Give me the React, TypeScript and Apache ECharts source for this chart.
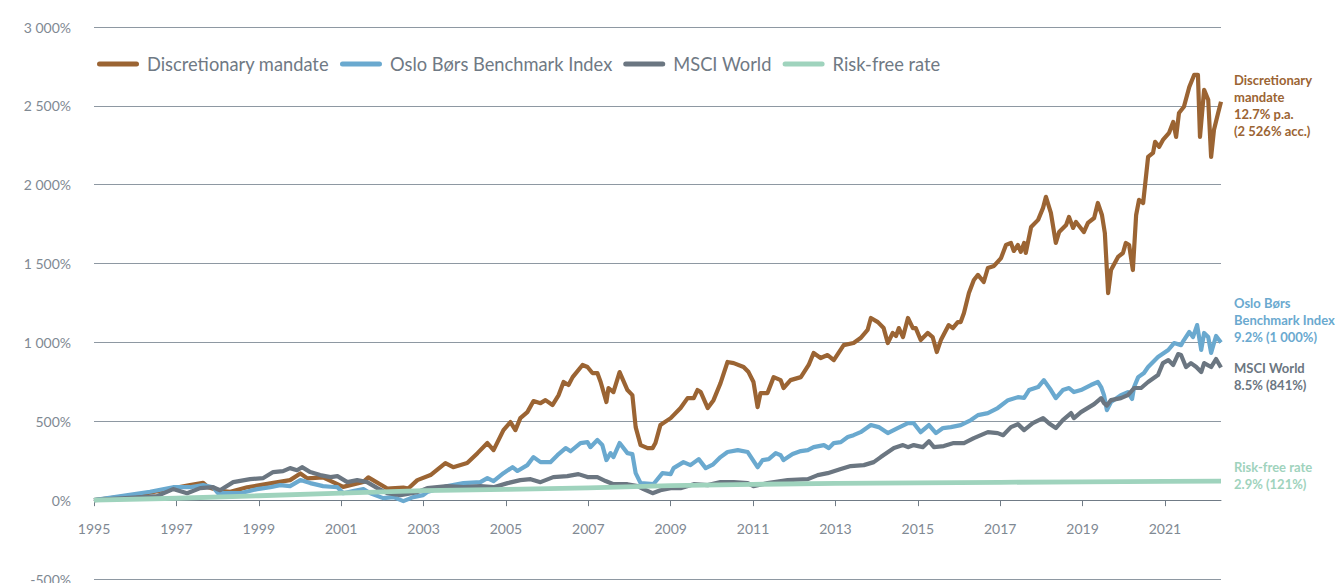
import React, { useEffect, useRef } from "react";
import * as echarts from "echarts";

const START_YEAR = 1995;
const yearTicks = [1995, 1997, 1999, 2001, 2003, 2005, 2007, 2009, 2011, 2013, 2015, 2017, 2019, 2021];
const END_YEAR = 2022.36;

const seriesNames = ["Discretionary mandate", "Oslo Børs Benchmark Index", "MSCI World", "Risk-free rate"];
const seriesColors = ["#9b6433", "#6aa9cf", "#6b7681", "#9fd3bd"];

// [decimal year, accumulated return %]
const discretionary: [number, number][] = [
  [1995.0, 0], [1996.12, 36], [1997.33, 95], [1997.65, 110], [1997.77, 82], [1998.06, 59], [1998.31, 53], [1998.72, 82],
  [1999.28, 106], [1999.76, 127], [2000.01, 169], [2000.18, 138], [2000.56, 144], [2001.05, 84], [2001.54, 116], [2001.66, 144],
  [2002.12, 74], [2002.51, 80], [2002.63, 74], [2002.85, 127], [2003.17, 159], [2003.53, 235], [2003.72, 209], [2004.06, 235],
  [2004.31, 298], [2004.55, 362], [2004.7, 317], [2004.94, 444], [2005.11, 495], [2005.23, 444], [2005.35, 520], [2005.52, 558],
  [2005.67, 628], [2005.84, 615], [2005.96, 634], [2006.13, 603], [2006.28, 666], [2006.4, 749], [2006.52, 730], [2006.62, 780],
  [2006.86, 857], [2006.98, 844], [2007.1, 806], [2007.22, 806], [2007.3, 749], [2007.44, 622], [2007.49, 711], [2007.61, 685],
  [2007.76, 812], [2007.95, 698], [2008.07, 666], [2008.15, 463], [2008.27, 349], [2008.44, 330], [2008.56, 330], [2008.63, 362],
  [2008.75, 476], [2009.0, 520], [2009.24, 584], [2009.41, 647], [2009.56, 647], [2009.65, 698], [2009.73, 685], [2009.9, 584],
  [2010.04, 634], [2010.21, 742], [2010.38, 876], [2010.53, 869], [2010.77, 844], [2010.89, 812], [2011.01, 749], [2011.11, 590],
  [2011.18, 679], [2011.35, 679], [2011.5, 780], [2011.67, 761], [2011.74, 711], [2011.91, 761], [2012.16, 780], [2012.35, 857],
  [2012.47, 933], [2012.64, 901], [2012.81, 920], [2012.96, 888], [2013.2, 983], [2013.44, 996], [2013.61, 1028], [2013.78, 1079],
  [2013.86, 1155], [2014.03, 1129], [2014.17, 1091], [2014.27, 996], [2014.39, 1060], [2014.47, 1041], [2014.54, 1091], [2014.64, 1034],
  [2014.76, 1155], [2014.88, 1091], [2014.95, 1091], [2015.07, 1015], [2015.24, 1060], [2015.36, 1034], [2015.46, 939], [2015.56, 1015],
  [2015.75, 1110], [2015.85, 1091], [2015.97, 1129], [2016.04, 1129], [2016.12, 1187], [2016.24, 1313], [2016.36, 1396], [2016.46, 1428],
  [2016.6, 1383], [2016.7, 1472], [2016.85, 1485], [2017.02, 1535], [2017.14, 1618], [2017.26, 1631], [2017.33, 1580], [2017.43, 1618],
  [2017.5, 1574], [2017.58, 1631], [2017.62, 1567], [2017.75, 1732], [2017.92, 1777], [2018.04, 1853], [2018.11, 1923], [2018.23, 1821],
  [2018.35, 1631], [2018.43, 1700], [2018.6, 1745], [2018.67, 1796], [2018.77, 1726], [2018.84, 1764], [2019.03, 1700], [2019.13, 1758],
  [2019.28, 1789], [2019.37, 1884], [2019.47, 1808], [2019.54, 1694], [2019.62, 1313], [2019.69, 1459], [2019.86, 1542], [2019.98, 1567],
  [2020.05, 1631], [2020.13, 1618], [2020.22, 1459], [2020.3, 1808], [2020.37, 1904], [2020.47, 1884], [2020.59, 2176], [2020.71, 2202],
  [2020.76, 2272], [2020.86, 2240], [2020.95, 2284], [2021.1, 2329], [2021.2, 2398], [2021.27, 2303], [2021.34, 2455], [2021.46, 2494],
  [2021.59, 2620], [2021.71, 2697], [2021.8, 2697], [2021.85, 2303], [2021.95, 2601], [2022.05, 2538], [2022.12, 2176], [2022.19, 2348],
  [2022.29, 2455], [2022.36, 2526],
];

const osloBors: [number, number][] = [
  [1995.0, 0], [1996.36, 53], [1996.92, 82], [1997.33, 82], [1997.65, 95], [1997.89, 82], [1998.01, 44], [1998.55, 44],
  [1998.96, 70], [1999.28, 82], [1999.52, 95], [1999.76, 89], [2000.01, 127], [2000.25, 108], [2000.56, 89], [2000.74, 85],
  [2000.91, 82], [2001.05, 44], [2001.29, 57], [2001.54, 70], [2001.71, 44], [2002.02, 13], [2002.27, 19], [2002.51, -6],
  [2002.75, 19], [2002.99, 32], [2003.09, 51], [2003.58, 89], [2003.97, 108], [2004.38, 114], [2004.55, 140], [2004.7, 120],
  [2004.94, 171], [2005.16, 209], [2005.28, 185], [2005.52, 222], [2005.67, 273], [2005.84, 241], [2006.08, 241], [2006.25, 285],
  [2006.45, 330], [2006.57, 310], [2006.81, 362], [2006.98, 368], [2007.05, 336], [2007.22, 381], [2007.34, 350], [2007.44, 254],
  [2007.54, 298], [2007.61, 273], [2007.76, 362], [2007.95, 298], [2008.07, 292], [2008.15, 171], [2008.27, 108], [2008.58, 101],
  [2008.8, 171], [2009.0, 165], [2009.07, 203], [2009.31, 241], [2009.48, 222], [2009.68, 260], [2009.85, 203], [2010.02, 225],
  [2010.21, 273], [2010.38, 305], [2010.63, 317], [2010.87, 305], [2011.11, 209], [2011.23, 254], [2011.38, 260], [2011.55, 298],
  [2011.67, 285], [2011.74, 254], [2011.96, 292], [2012.16, 311], [2012.33, 317], [2012.47, 336], [2012.72, 349], [2012.84, 330],
  [2012.96, 362], [2013.13, 368], [2013.3, 400], [2013.44, 412], [2013.61, 431], [2013.86, 476], [2014.05, 463], [2014.27, 425],
  [2014.51, 457], [2014.76, 488], [2014.9, 488], [2015.07, 431], [2015.27, 476], [2015.44, 425], [2015.61, 457], [2015.8, 463],
  [2016.04, 476], [2016.29, 508], [2016.46, 539], [2016.7, 552], [2016.94, 584], [2017.19, 634], [2017.43, 653], [2017.58, 648],
  [2017.7, 698], [2017.92, 717], [2018.06, 761], [2018.23, 698], [2018.35, 647], [2018.52, 698], [2018.67, 711], [2018.79, 685],
  [2018.96, 698], [2019.2, 730], [2019.37, 749], [2019.45, 717], [2019.52, 666], [2019.59, 571], [2019.69, 622], [2019.93, 666],
  [2020.1, 685], [2020.2, 641], [2020.25, 717], [2020.35, 780], [2020.49, 806], [2020.59, 844], [2020.83, 907], [2021.08, 952],
  [2021.22, 996], [2021.39, 983], [2021.46, 1015], [2021.59, 1066], [2021.68, 1034], [2021.78, 1110], [2021.88, 952], [2021.95, 1060],
  [2022.05, 1034], [2022.12, 933], [2022.24, 1041], [2022.36, 1000],
];

const msciWorld: [number, number][] = [
  [1995.0, 0], [1996.53, 25], [1996.92, 70], [1997.26, 44], [1997.58, 76], [1997.89, 82], [1998.06, 63], [1998.38, 114],
  [1998.79, 133], [1999.11, 140], [1999.35, 178], [1999.59, 184], [1999.76, 203], [1999.93, 190], [2000.05, 209], [2000.25, 178],
  [2000.49, 159], [2000.74, 146], [2000.91, 152], [2001.15, 114], [2001.39, 127], [2001.63, 114], [2001.88, 76], [2002.12, 44],
  [2002.44, 32], [2002.85, 51], [2003.09, 76], [2003.58, 89], [2003.97, 82], [2004.38, 89], [2004.7, 82], [2005.04, 108],
  [2005.35, 127], [2005.6, 133], [2005.84, 114], [2006.15, 146], [2006.49, 152], [2006.76, 165], [2006.98, 146], [2007.22, 146],
  [2007.42, 121], [2007.61, 101], [2007.95, 101], [2008.2, 89], [2008.34, 70], [2008.56, 44], [2008.75, 63], [2009.0, 76],
  [2009.24, 76], [2009.56, 101], [2009.9, 95], [2010.21, 114], [2010.53, 114], [2010.87, 108], [2011.01, 89], [2011.35, 108],
  [2011.84, 127], [2012.33, 133], [2012.57, 159], [2012.81, 171], [2013.13, 197], [2013.37, 216], [2013.69, 222], [2013.93, 241],
  [2014.1, 273], [2014.42, 330], [2014.64, 349], [2014.76, 336], [2014.9, 349], [2015.12, 336], [2015.27, 374], [2015.39, 336],
  [2015.63, 343], [2015.87, 362], [2016.12, 362], [2016.36, 393], [2016.53, 412], [2016.7, 431], [2016.94, 425], [2017.07, 412],
  [2017.26, 463], [2017.43, 482], [2017.58, 444], [2017.79, 488], [2018.04, 520], [2018.18, 488], [2018.35, 457], [2018.52, 508],
  [2018.72, 552], [2018.79, 520], [2018.96, 558], [2019.28, 609], [2019.45, 647], [2019.52, 615], [2019.59, 600], [2019.69, 634],
  [2019.93, 647], [2020.1, 666], [2020.25, 711], [2020.42, 711], [2020.59, 749], [2020.83, 793], [2020.95, 869], [2021.08, 888],
  [2021.2, 857], [2021.32, 926], [2021.39, 920], [2021.51, 844], [2021.63, 869], [2021.76, 844], [2021.88, 812], [2021.95, 869],
  [2022.12, 844], [2022.24, 895], [2022.36, 841],
];

const riskFree: [number, number][] = [
  [1995.0, 0], [1997.0, 12], [1999.0, 28], [2001.0, 45], [2003.0, 60], [2005.0, 68], [2007.0, 78], [2009.0, 92],
  [2011.0, 100], [2013.0, 106], [2015.0, 110], [2017.0, 113], [2019.0, 116], [2021.0, 119], [2022.36, 121],
];

const yMin = -500;
const yMax = 3000;
const yStep = 500;

const endLabels = [
  { text: "Discretionary\nmandate\n12.7% p.a.\n(2 526% acc.)", y: 71, color: seriesColors[0] },
  { text: "Oslo Børs\nBenchmark Index\n9.2% (1 000%)", y: 294, color: seriesColors[1] },
  { text: "MSCI World\n8.5% (841%)", y: 359, color: seriesColors[2] },
  { text: "Risk-free rate\n2.9% (121%)", y: 458, color: seriesColors[3] },
];

const FONT = "Lato, 'Open Sans', sans-serif";
const W = 1335;
const H = 583;
const GRID = { left: 94, right: 114, top: 27, bottom: 4 };

function fmtThousands(v: number): string {
  const s = Math.abs(v).toString().replace(/\B(?=(\d{3})+(?!\d))/g, " ");
  return (v < 0 ? "-" : "") + s + "%";
}

export default function App() {
  const ref = useRef<HTMLDivElement>(null);

  useEffect(() => {
    if (!ref.current) return;
    const chart = echarts.init(ref.current, undefined, { renderer: "svg" });
    const allData = [discretionary, osloBors, msciWorld, riskFree];
    const tickOffsets = yearTicks.map((y) => y - START_YEAR);

    // move the x axis (line, ticks, labels) from the grid bottom up to the 0% level
    const gridHeight = H - GRID.top - GRID.bottom;
    const zeroOffset = -(gridHeight * (0 - yMin)) / (yMax - yMin);

    const legendIcon =
      "path://M2.5,0 H39.5 A2.5,2.5 0 0 1 39.5,5 H2.5 A2.5,2.5 0 0 1 2.5,0 Z";

    chart.setOption({
      animation: false,
      backgroundColor: "#ffffff",
      grid: { ...GRID, containLabel: false, outerBoundsMode: "none" },
      legend: {
        left: 97,
        top: 55,
        padding: 0,
        itemWidth: 42,
        itemHeight: 5,
        itemGap: 11,
        icon: legendIcon,
        data: seriesNames.map((n, i) => ({ name: n, itemStyle: { color: seriesColors[i] } })),
        textStyle: { fontFamily: FONT, fontSize: 18.3, color: "#6f7984", padding: [0, 0, 0, 3] },
      },
      xAxis: {
        type: "value",
        min: 0,
        max: END_YEAR - START_YEAR,
        interval: 2,
        offset: zeroOffset,
        axisLine: { onZero: false, lineStyle: { color: "#707b86", width: 1 } },
        axisTick: { show: true, length: 6, customValues: tickOffsets, lineStyle: { color: "#707b86" } },
        axisLabel: {
          customValues: tickOffsets,
          margin: 21,
          fontFamily: FONT,
          fontSize: 14,
          color: "#7f8993",
          formatter: (v: number) => String(Math.round(v + START_YEAR)),
        },
        splitLine: { show: false },
      },
      yAxis: {
        type: "value",
        min: yMin,
        max: yMax,
        interval: yStep,
        axisLine: { show: false, onZero: false },
        axisTick: { show: false },
        axisLabel: {
          margin: 23,
          fontFamily: FONT,
          fontSize: 14,
          color: "#7f8993",
          formatter: (v: number) => fmtThousands(v),
        },
        splitLine: { show: true, lineStyle: { color: "#8e98a2", width: 1 } },
      },
      series: allData.map((d, i) => ({
        name: seriesNames[i],
        type: "line",
        data: d.map(([yr, v]) => [yr - START_YEAR, v]),
        showSymbol: false,
        symbol: "none",
        color: seriesColors[i],
        lineStyle: { color: seriesColors[i], width: i === 3 ? 4.8 : 4.2, join: "round" },
        z: 2 + i,
      })),
      graphic: endLabels.map((l) => ({
        type: "text",
        x: 1234,
        y: l.y,
        style: {
          text: l.text,
          fill: l.color,
          fontFamily: FONT,
          fontSize: 13,
          fontWeight: "bold",
          lineHeight: 17,
          textVerticalAlign: "top",
        },
      })),
    });

    return () => chart.dispose();
  }, []);

  return (
    <div
      ref={ref}
      style={{ position: "absolute", left: 0, top: 0, width: W, height: H, background: "#fff" }}
    />
  );
}
